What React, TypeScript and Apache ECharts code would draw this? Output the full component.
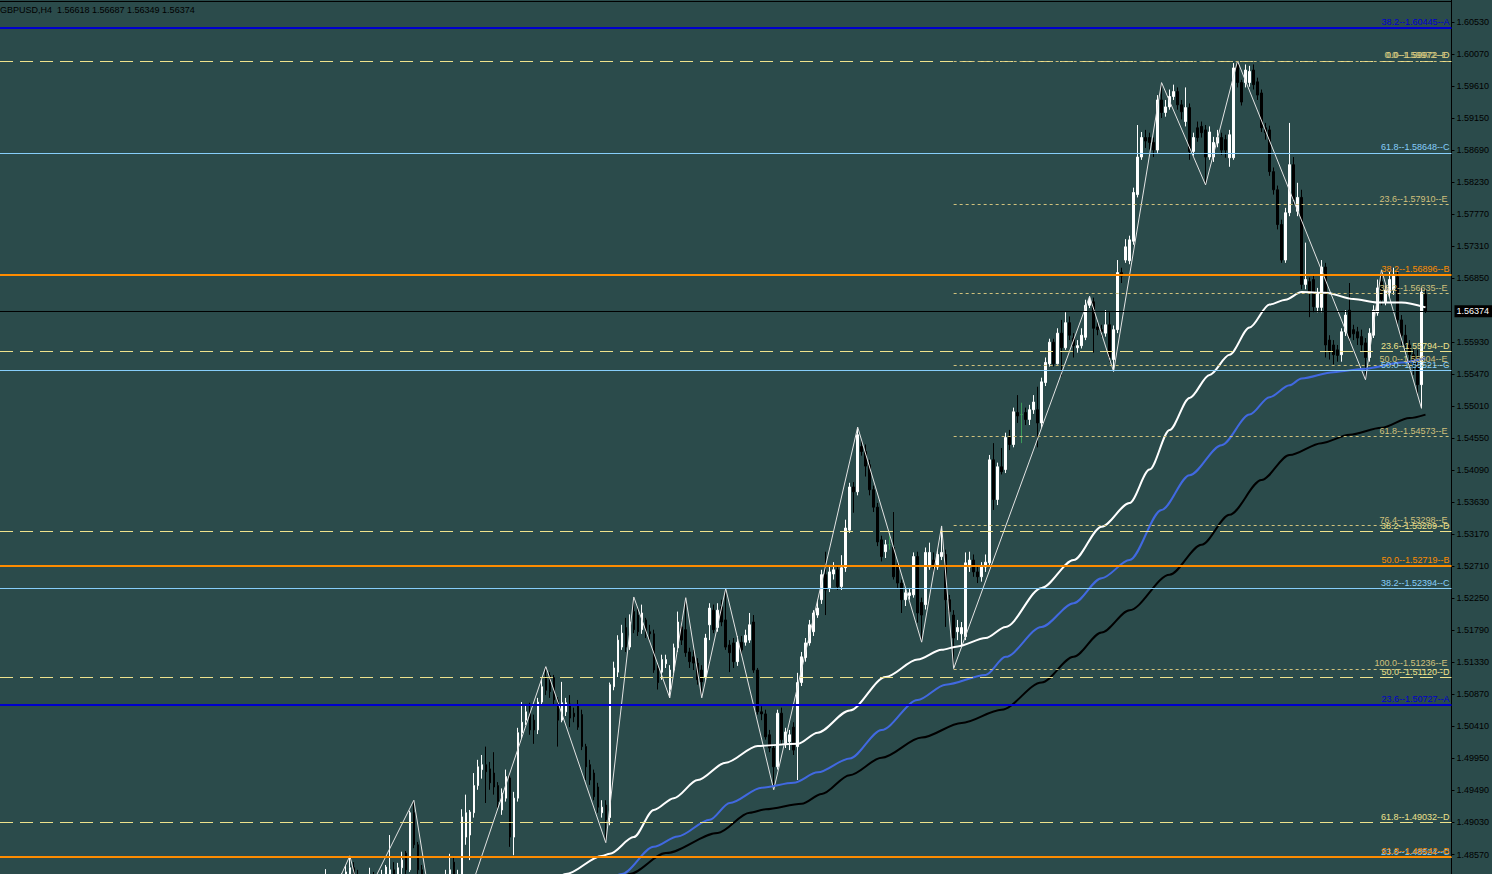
import { useEffect, useRef } from 'react';
import * as echarts from 'echarts';

// ---------- data ----------
const symbolName = 'GBPUSD';
const timeframe = 'H4';
// last bar: open, high, low, close
const lastQuote = [1.56618, 1.56687, 1.56349, 1.56374];

const BAR_COUNT = 363;
const FIRST_BAR = 80;
const bars: string[] = Array.from({ length: BAR_COUNT }, (_, i) => String(i));

// [open, close, low, high] starting at bar FIRST_BAR
const candles: number[][] = [
  [1.4806,1.4792,1.4777,1.4820],[1.4813,1.4820,1.4799,1.4836],[1.4820,1.4806,1.4792,1.4828],[1.4806,1.4813,1.4792,1.4823],
  [1.4813,1.4817,1.4799,1.4826],[1.4817,1.4823,1.4803,1.4830],[1.4823,1.4832,1.4809,1.4842],[1.4828,1.4838,1.4815,1.4855],
  [1.4838,1.4820,1.4809,1.4846],[1.4820,1.4806,1.4792,1.4835],[1.4806,1.4799,1.4785,1.4820],[1.4799,1.4813,1.4785,1.4823],
  [1.4813,1.4820,1.4803,1.4838],[1.4820,1.4813,1.4799,1.4832],[1.4813,1.4820,1.4803,1.4828],[1.4817,1.4826,1.4806,1.4835],
  [1.4829,1.4839,1.4820,1.4842],[1.4823,1.4835,1.4813,1.4885],[1.4835,1.4828,1.4817,1.4846],[1.4826,1.4838,1.4815,1.4845],
  [1.4838,1.4849,1.4828,1.4861],[1.4859,1.4835,1.4828,1.4862],[1.4835,1.4917,1.4832,1.4920],[1.4917,1.4871,1.4866,1.4935],
  [1.4871,1.4835,1.4829,1.4875],[1.4835,1.4813,1.4806,1.4842],[1.4813,1.4792,1.4777,1.4820],[1.4792,1.4763,1.4749,1.4799],
  [1.4763,1.4734,1.4720,1.4770],[1.4734,1.4749,1.4706,1.4756],[1.4749,1.4706,1.4685,1.4763],[1.4713,1.4820,1.4698,1.4835],
  [1.4820,1.4835,1.4806,1.4858],[1.4846,1.4813,1.4803,1.4852],[1.4813,1.4823,1.4799,1.4835],[1.4820,1.4911,1.4813,1.4922],
  [1.4882,1.4917,1.4871,1.4943],[1.4885,1.4918,1.4849,1.4921],[1.4917,1.4956,1.4910,1.4974],[1.4956,1.4983,1.4950,1.4993],
  [1.4979,1.4986,1.4966,1.5000],[1.4986,1.4976,1.4931,1.5012],[1.4980,1.4960,1.4950,1.4990],[1.4974,1.4954,1.4943,1.5004],
  [1.4956,1.4933,1.4924,1.4961],[1.4921,1.4945,1.4914,1.4952],[1.4938,1.4969,1.4933,1.4979],[1.4967,1.4882,1.4868,1.4972],
  [1.4882,1.4938,1.4856,1.4947],[1.4938,1.5032,1.4933,1.5039],[1.5032,1.5047,1.5024,1.5076],[1.5050,1.5062,1.5043,1.5072],
  [1.5060,1.5036,1.5029,1.5075],[1.5050,1.5036,1.5016,1.5058],[1.5036,1.5076,1.5030,1.5082],[1.5076,1.5098,1.5071,1.5108],
  [1.5112,1.5093,1.5086,1.5127],[1.5114,1.5091,1.5082,1.5119],[1.5111,1.5079,1.5072,1.5115],[1.5079,1.5050,1.5012,1.5083],
  [1.5050,1.5075,1.5047,1.5105],[1.5062,1.5075,1.5056,1.5082],[1.5073,1.5053,1.5040,1.5086],[1.5060,1.5055,1.5047,1.5068],
  [1.5070,1.5040,1.5036,1.5079],[1.5058,1.5012,1.5007,1.5065],[1.5012,1.4983,1.4964,1.5016],[1.4986,1.4964,1.4957,1.4993],
  [1.4974,1.4940,1.4935,1.4979],[1.4954,1.4925,1.4917,1.4960],[1.4917,1.4925,1.4910,1.4935],[1.4928,1.4907,1.4874,1.4935],
  [1.4910,1.5101,1.4899,1.5104],[1.5098,1.5125,1.5093,1.5134],[1.5119,1.5165,1.5112,1.5172],[1.5155,1.5175,1.5151,1.5187],
  [1.5183,1.5155,1.5148,1.5197],[1.5155,1.5191,1.5151,1.5202],[1.5206,1.5180,1.5175,1.5227],[1.5201,1.5177,1.5171,1.5211],
  [1.5180,1.5204,1.5174,1.5216],[1.5194,1.5175,1.5168,1.5197],[1.5177,1.5174,1.5165,1.5187],[1.5174,1.5122,1.5118,1.5180],
  [1.5125,1.5104,1.5094,1.5131],[1.5119,1.5137,1.5108,1.5144],[1.5131,1.5137,1.5125,1.5144],[1.5094,1.5122,1.5082,1.5129],
  [1.5122,1.5154,1.5118,1.5160],[1.5154,1.5191,1.5148,1.5206],[1.5184,1.5165,1.5158,1.5194],[1.5180,1.5147,1.5141,1.5226],
  [1.5148,1.5134,1.5125,1.5154],[1.5141,1.5132,1.5122,1.5151],[1.5132,1.5108,1.5101,1.5139],[1.5122,1.5105,1.5082,1.5129],
  [1.5112,1.5168,1.5108,1.5174],[1.5187,1.5211,1.5165,1.5218],[1.5208,1.5180,1.5175,1.5216],[1.5183,1.5208,1.5177,1.5218],
  [1.5213,1.5191,1.5185,1.5223],[1.5194,1.5155,1.5151,1.5239],[1.5158,1.5147,1.5119,1.5165],[1.5161,1.5134,1.5125,1.5168],
  [1.5134,1.5162,1.5128,1.5171],[1.5162,1.5151,1.5144,1.5171],[1.5162,1.5172,1.5157,1.5180],[1.5165,1.5187,1.5161,1.5204],
  [1.5191,1.5122,1.5118,1.5201],[1.5122,1.5062,1.5058,1.5125],[1.5062,1.5059,1.5050,1.5070],[1.5059,1.5026,1.5022,1.5065],
  [1.5029,1.5010,1.5004,1.5036],[1.5010,1.4983,1.4950,1.5015],[1.4983,1.5060,1.4979,1.5065],[1.5060,1.5022,1.5015,1.5068],
  [1.5017,1.5033,1.5010,1.5039],[1.5019,1.5029,1.5007,1.5036],[1.5040,1.5007,1.5000,1.5047],[1.5012,1.5104,1.4964,1.5118],
  [1.5104,1.5141,1.5099,1.5148],[1.5140,1.5161,1.5134,1.5168],[1.5161,1.5187,1.5157,1.5194],[1.5177,1.5204,1.5171,1.5208],
  [1.5201,1.5211,1.5197,1.5223],[1.5223,1.5259,1.5217,1.5266],[1.5259,1.5237,1.5201,1.5292],[1.5240,1.5263,1.5234,1.5273],
  [1.5260,1.5266,1.5252,1.5277],[1.5266,1.5242,1.5237,1.5273],[1.5242,1.5269,1.5237,1.5287],[1.5269,1.5326,1.5263,1.5338],
  [1.5323,1.5385,1.5319,1.5391],[1.5385,1.5378,1.5348,1.5392],[1.5378,1.5460,1.5373,1.5471],[1.5443,1.5436,1.5430,1.5453],
  [1.5436,1.5415,1.5400,1.5446],[1.5417,1.5381,1.5373,1.5424],[1.5381,1.5356,1.5349,1.5387],[1.5356,1.5306,1.5300,1.5362],
  [1.5309,1.5285,1.5278,1.5315],[1.5292,1.5302,1.5283,1.5309],[1.5302,1.5302,1.5295,1.5319],[1.5298,1.5256,1.5252,1.5349],
  [1.5273,1.5247,1.5240,1.5280],[1.5247,1.5223,1.5204,1.5252],[1.5223,1.5233,1.5214,1.5240],[1.5229,1.5233,1.5223,1.5240],
  [1.5230,1.5285,1.5226,1.5291],[1.5285,1.5204,1.5190,1.5292],[1.5219,1.5201,1.5162,1.5226],[1.5216,1.5291,1.5209,1.5298],
  [1.5270,1.5291,1.5266,1.5305],[1.5280,1.5270,1.5263,1.5291],[1.5270,1.5288,1.5266,1.5295],[1.5285,1.5291,1.5280,1.5329],
  [1.5288,1.5223,1.5184,1.5295],[1.5223,1.5206,1.5194,1.5230],[1.5201,1.5168,1.5124,1.5208],[1.5177,1.5183,1.5165,1.5194],
  [1.5174,1.5183,1.5158,1.5191],[1.5170,1.5276,1.5165,1.5291],[1.5270,1.5280,1.5263,1.5292],[1.5280,1.5263,1.5256,1.5288],
  [1.5263,1.5256,1.5247,1.5273],[1.5256,1.5270,1.5249,1.5277],[1.5270,1.5277,1.5263,1.5288],[1.5276,1.5424,1.5272,1.5431],
  [1.5424,1.5367,1.5352,1.5448],[1.5367,1.5414,1.5359,1.5420],[1.5414,1.5407,1.5403,1.5441],[1.5410,1.5456,1.5405,1.5463],
  [1.5456,1.5446,1.5438,1.5467],[1.5446,1.5493,1.5442,1.5499],[1.5492,1.5487,1.5477,1.5517],[1.5489,1.5489,1.5448,1.5506],
  [1.5492,1.5482,1.5474,1.5499],[1.5482,1.5496,1.5474,1.5503],[1.5496,1.5507,1.5490,1.5517],[1.5496,1.5477,1.5442,1.5529],
  [1.5477,1.5536,1.5470,1.5542],[1.5535,1.5564,1.5530,1.5571],[1.5562,1.5593,1.5558,1.5598],[1.5593,1.5562,1.5558,1.5598],
  [1.5562,1.5606,1.5561,1.5613],[1.5606,1.5585,1.5544,1.5625],[1.5585,1.5621,1.5582,1.5636],[1.5621,1.5603,1.5596,1.5630],
  [1.5599,1.5588,1.5571,1.5606],[1.5585,1.5588,1.5578,1.5596],[1.5588,1.5603,1.5584,1.5613],[1.5600,1.5646,1.5596,1.5654],
  [1.5646,1.5654,1.5642,1.5659],[1.5651,1.5613,1.5578,1.5657],[1.5615,1.5611,1.5603,1.5622],[1.5611,1.5608,1.5601,1.5618],
  [1.5606,1.5618,1.5601,1.5639],[1.5618,1.5571,1.5565,1.5636],[1.5568,1.5611,1.5551,1.5617],[1.5611,1.5693,1.5606,1.5711],
  [1.5693,1.5688,1.5678,1.5700],[1.5711,1.5730,1.5707,1.5741],[1.5710,1.5740,1.5705,1.5746],[1.5738,1.5808,1.5733,1.5815],
  [1.5805,1.5859,1.5801,1.5905],[1.5859,1.5887,1.5855,1.5895],[1.5887,1.5882,1.5872,1.5898],[1.5887,1.5880,1.5870,1.5894],
  [1.5880,1.5869,1.5859,1.5887],[1.5869,1.5941,1.5865,1.5948],[1.5941,1.5923,1.5915,1.5966],[1.5923,1.5931,1.5917,1.5941],
  [1.5931,1.5946,1.5927,1.5956],[1.5946,1.5953,1.5941,1.5963],[1.5953,1.5934,1.5927,1.5959],[1.5934,1.5924,1.5913,1.5941],
  [1.5910,1.5930,1.5903,1.5959],[1.5930,1.5867,1.5855,1.5936],[1.5867,1.5887,1.5861,1.5894],[1.5901,1.5887,1.5881,1.5910],
  [1.5903,1.5894,1.5887,1.5910],[1.5898,1.5859,1.5819,1.5905],[1.5859,1.5895,1.5855,1.5903],[1.5859,1.5880,1.5852,1.5888],
  [1.5879,1.5887,1.5873,1.5898],[1.5887,1.5869,1.5862,1.5894],[1.5884,1.5869,1.5858,1.5891],[1.5858,1.5891,1.5845,1.5898],
  [1.5858,1.5987,1.5855,1.5994],[1.5992,1.5966,1.5959,1.5997],[1.5966,1.5938,1.5933,1.5970],[1.5966,1.5984,1.5959,1.5992],
  [1.5966,1.5982,1.5960,1.5990],[1.5984,1.5963,1.5956,1.5992],[1.5967,1.5948,1.5941,1.5973],[1.5951,1.5901,1.5895,1.5956],
  [1.5901,1.5894,1.5884,1.5908],[1.5898,1.5838,1.5832,1.5904],[1.5838,1.5812,1.5805,1.5844],[1.5812,1.5762,1.5755,1.5818],
  [1.5762,1.5711,1.5707,1.5769],[1.5711,1.5779,1.5707,1.5786],[1.5779,1.5848,1.5774,1.5908],[1.5848,1.5798,1.5791,1.5859],
  [1.5781,1.5801,1.5774,1.5822],[1.5801,1.5676,1.5669,1.5812],[1.5676,1.5683,1.5669,1.5736],[1.5680,1.5664,1.5629,1.5686],
  [1.5683,1.5644,1.5636,1.5690],[1.5643,1.5664,1.5636,1.5671],[1.5643,1.5701,1.5636,1.5711],[1.5701,1.5589,1.5571,1.5707],
  [1.5596,1.5579,1.5568,1.5603],[1.5589,1.5575,1.5561,1.5596],[1.5582,1.5574,1.5565,1.5589],[1.5575,1.5608,1.5565,1.5613],
  [1.5608,1.5632,1.5602,1.5639],[1.5639,1.5600,1.5593,1.5678],[1.5611,1.5605,1.5596,1.5618],[1.5608,1.5599,1.5589,1.5615],
  [1.5601,1.5589,1.5579,1.5611],[1.5592,1.5571,1.5539,1.5599],[1.5571,1.5606,1.5565,1.5613],[1.5603,1.5639,1.5599,1.5646],
  [1.5635,1.5671,1.5631,1.5683],[1.5680,1.5654,1.5646,1.5697],[1.5651,1.5668,1.5646,1.5675],[1.5664,1.5683,1.5657,1.5694],
  [1.5668,1.5688,1.5661,1.5700],[1.5687,1.5625,1.5618,1.5694],[1.5625,1.5603,1.5589,1.5632],[1.5603,1.5589,1.5579,1.5618],
  [1.5589,1.5575,1.5561,1.5596],[1.5575,1.5561,1.5546,1.5585],[1.5571,1.5532,1.5517,1.5582],[1.5532,1.5665,1.5498,1.5671],
  [1.56618,1.56374,1.56349,1.56687],
];

// moving averages, read at selected bars: [bar, price]
const maWhite: number[][] = [
  [138,1.4818],[141,1.4829],[150,1.4855],[152,1.4858],[158,1.4882],[163,1.4921],[168,1.4938],[174,1.4964],[181,1.4989],
  [189,1.5013],[199,1.5016],[204,1.5032],[212,1.5064],[221,1.5112],[229,1.5137],[235,1.5151],[239,1.5156],[246,1.5168],
  [251,1.5184],[260,1.5240],[268,1.5280],[275,1.5328],[282,1.5362],[287,1.5410],[292,1.5467],[297,1.5513],[302,1.5546],
  [307,1.5575],[312,1.5614],[317,1.5647],[321,1.5654],[325,1.5665],[331,1.5664],[338,1.5655],[344,1.5650],[350,1.5650],[356,1.5643],
];
const maBlue: number[][] = [
  [152,1.4821],[155,1.4829],[163,1.4868],[169,1.4883],[177,1.4907],[182,1.4931],[190,1.4953],[198,1.4960],[204,1.4975],
  [212,1.4995],[220,1.5036],[229,1.5079],[236,1.5101],[246,1.5115],[251,1.5141],[260,1.5184],[268,1.5218],[275,1.5254],
  [282,1.5280],[290,1.5352],[297,1.5402],[305,1.5445],[312,1.5489],[317,1.5514],[322,1.5531],[325,1.5541],[333,1.5550],
  [341,1.5555],[350,1.5564],[356,1.5570],
];
const maBlack: number[][] = [
  [155,1.4821],[157,1.4829],[166,1.4859],[179,1.4888],[187,1.4917],[191,1.4922],[200,1.4930],[205,1.4944],[212,1.4971],
  [220,1.4996],[230,1.5025],[240,1.5046],[250,1.5065],[260,1.5104],[268,1.5141],[275,1.5176],[282,1.5208],[292,1.5259],
  [300,1.5302],[307,1.5345],[315,1.5395],[322,1.5431],[330,1.5448],[337,1.5460],[345,1.5470],[352,1.5484],[356,1.5489],
];
// zigzag pivots: [bar, price]
const zigzag: number[][] = [
  [82,1.4792],[87,1.4855],[90,1.4785],[103,1.4935],[110,1.4685],[136,1.5127],[151,1.4874],[158,1.5227],[167,1.5082],
  [171,1.5226],[175,1.5082],[181,1.5239],[193,1.4950],[214,1.5471],[230,1.5162],[235,1.5329],[238,1.5124],[272,1.5659],
  [278,1.5551],[290,1.5966],[301,1.5819],[309,1.5997],[341,1.5539],[345,1.5697],[355,1.5498],
];

// Fibonacci levels: [percent, price]
const levelsA = [[38.2, 1.60445], [23.6, 1.50727]];
const levelsB = [[38.2, 1.56896], [50.0, 1.52719], [61.8, 1.48542]];
const levelsC = [[61.8, 1.58648], [50.0, 1.55521], [38.2, 1.52394], [23.6, 1.48524]];
const levelsD = [[0.0, 1.59972], [23.6, 1.55794], [38.2, 1.53209], [50.0, 1.51120], [61.8, 1.49032]];
const levelsE = [[0.0, 1.59972], [23.6, 1.57910], [38.2, 1.56635], [50.0, 1.55604], [61.8, 1.54573], [76.4, 1.53298], [100.0, 1.51236]];
const E_START_BAR = 238;

// price-axis tick labels
const priceTicks = [
  1.6053, 1.6007, 1.5961, 1.5915, 1.5869, 1.5823, 1.5777, 1.5731, 1.5685, 1.5593, 1.5547, 1.5501, 1.5455,
  1.5409, 1.5363, 1.5317, 1.5271, 1.5225, 1.5179, 1.5133, 1.5087, 1.5041, 1.4995, 1.4949, 1.4903, 1.4857,
];
const Y_MIN = 1.4829;
const Y_MAX = 1.60846;

// ---------- styling ----------
const BG = '#2b4b4b';
const FONT = '"Liberation Sans", Arial, sans-serif';
const COL_A = '#0000cd';
const COL_B = '#ff8c00';
const COL_C = '#87cefa';
const COL_D = '#eee28c';
const COL_E = '#d0c07c';

function fmtLevel(pct: number, v: number, name: string) {
  return `${pct.toFixed(1)}--${v.toFixed(5)}--${name}`;
}

function lbl(color: string, text: string) {
  return {
    show: true,
    position: 'insideEndTop',
    formatter: text,
    color,
    fontSize: 9,
    fontFamily: FONT,
    distance: [2, 1],
  };
}

function buildMarkLines() {
  const out: any[] = [];
  levelsD.forEach(([p, v]) =>
    out.push({ yAxis: v, lineStyle: { color: COL_D, width: 1, type: [13, 7] }, label: lbl(COL_D, fmtLevel(p, v, 'D')) }),
  );
  levelsE.forEach(([p, v]) =>
    out.push([
      { xAxis: E_START_BAR, yAxis: v, lineStyle: { color: COL_E, width: 1, type: [3, 3] }, label: lbl(COL_E, fmtLevel(p, v, 'E')) },
      { xAxis: BAR_COUNT - 1, yAxis: v },
    ]),
  );
  levelsC.forEach(([p, v]) =>
    out.push({ yAxis: v, lineStyle: { color: COL_C, width: 1, type: 'solid' }, label: lbl(COL_C, fmtLevel(p, v, 'C')) }),
  );
  levelsB.forEach(([p, v]) =>
    out.push({ yAxis: v, lineStyle: { color: COL_B, width: 2, type: 'solid' }, label: lbl(COL_B, fmtLevel(p, v, 'B')) }),
  );
  levelsA.forEach(([p, v]) =>
    out.push({ yAxis: v, lineStyle: { color: COL_A, width: 2, type: 'solid' }, label: lbl(COL_A, fmtLevel(p, v, 'A')) }),
  );
  const close = lastQuote[3];
  out.push({
    yAxis: close,
    lineStyle: { color: '#000', width: 1, type: 'solid' },
    label: {
      show: true,
      position: 'end',
      formatter: close.toFixed(5),
      color: '#fff',
      backgroundColor: '#000',
      fontSize: 9,
      fontFamily: FONT,
      padding: [2, 3, 1, 2],
      distance: 3,
    },
  });
  return out;
}

export default function App() {
  const ref = useRef<HTMLDivElement | null>(null);

  useEffect(() => {
    if (!ref.current) return;
    const chart = echarts.init(ref.current, null, { renderer: 'svg' });
    const ohlc = bars.map((_, i) => {
      const c = candles[i - FIRST_BAR];
      return c ? c : ['-', '-', '-', '-'];
    });
    const title = `${symbolName},${timeframe}  ${lastQuote.map((v) => v.toFixed(5)).join(' ')}`;

    const lineSeries = (data: number[][], color: string, width: number, smooth: any, z: number) => ({
      type: 'line',
      data,
      symbol: 'none',
      showSymbol: false,
      smooth,
      smoothMonotone: 'x',
      lineStyle: { color, width },
      silent: true,
      z,
      animation: false,
    });

    chart.setOption({
      animation: false,
      backgroundColor: BG,
      grid: { left: 0, right: 40, top: 0, bottom: 0, containLabel: false },
      xAxis: { type: 'category', data: bars, show: false, boundaryGap: true },
      yAxis: {
        type: 'value',
        position: 'right',
        min: Y_MIN,
        max: Y_MAX,
        axisLine: { show: true, onZero: false, lineStyle: { color: '#000', width: 1 } },
        axisTick: { show: true, customValues: priceTicks, length: 3, lineStyle: { color: '#000' } },
        axisLabel: {
          show: true,
          customValues: priceTicks,
          formatter: (v: number) => v.toFixed(5),
          color: '#000',
          fontSize: 9,
          fontFamily: FONT,
          margin: 5,
        },
        splitLine: { show: false },
      },
      series: [
        {
          type: 'candlestick',
          data: ohlc,
          barWidth: 2,
          z: 2,
          itemStyle: {
            color: '#ffffff',
            color0: '#000000',
            borderColor: '#ffffff',
            borderColor0: '#000000',
            borderColorDoji: '#3c9a5a',
            borderWidth: 1,
          },
          markLine: {
            symbol: ['none', 'none'],
            silent: true,
            animation: false,
            precision: 5,
            data: buildMarkLines(),
          },
        },
        lineSeries(zigzag, '#e4e4e4', 1, false, 3),
        lineSeries(maBlack, '#000000', 2, 0.3, 4),
        lineSeries(maBlue, '#4169e1', 2, 0.3, 4),
        lineSeries(maWhite, '#ffffff', 2, 0.3, 4),
      ],
      graphic: [
        { type: 'line', silent: true, shape: { x1: 0, y1: 1.5, x2: 1452, y2: 1.5 }, style: { stroke: '#000', lineWidth: 1 } },
        { type: 'text', silent: true, x: 0, y: 5, style: { text: title, fill: '#000', fontSize: 9, fontFamily: FONT } },
      ],
    });
    return () => chart.dispose();
  }, []);

  return (
    <div
      ref={ref}
      style={{ position: 'fixed', left: 0, top: 0, width: 1492, height: 874 }}
    />
  );
}
